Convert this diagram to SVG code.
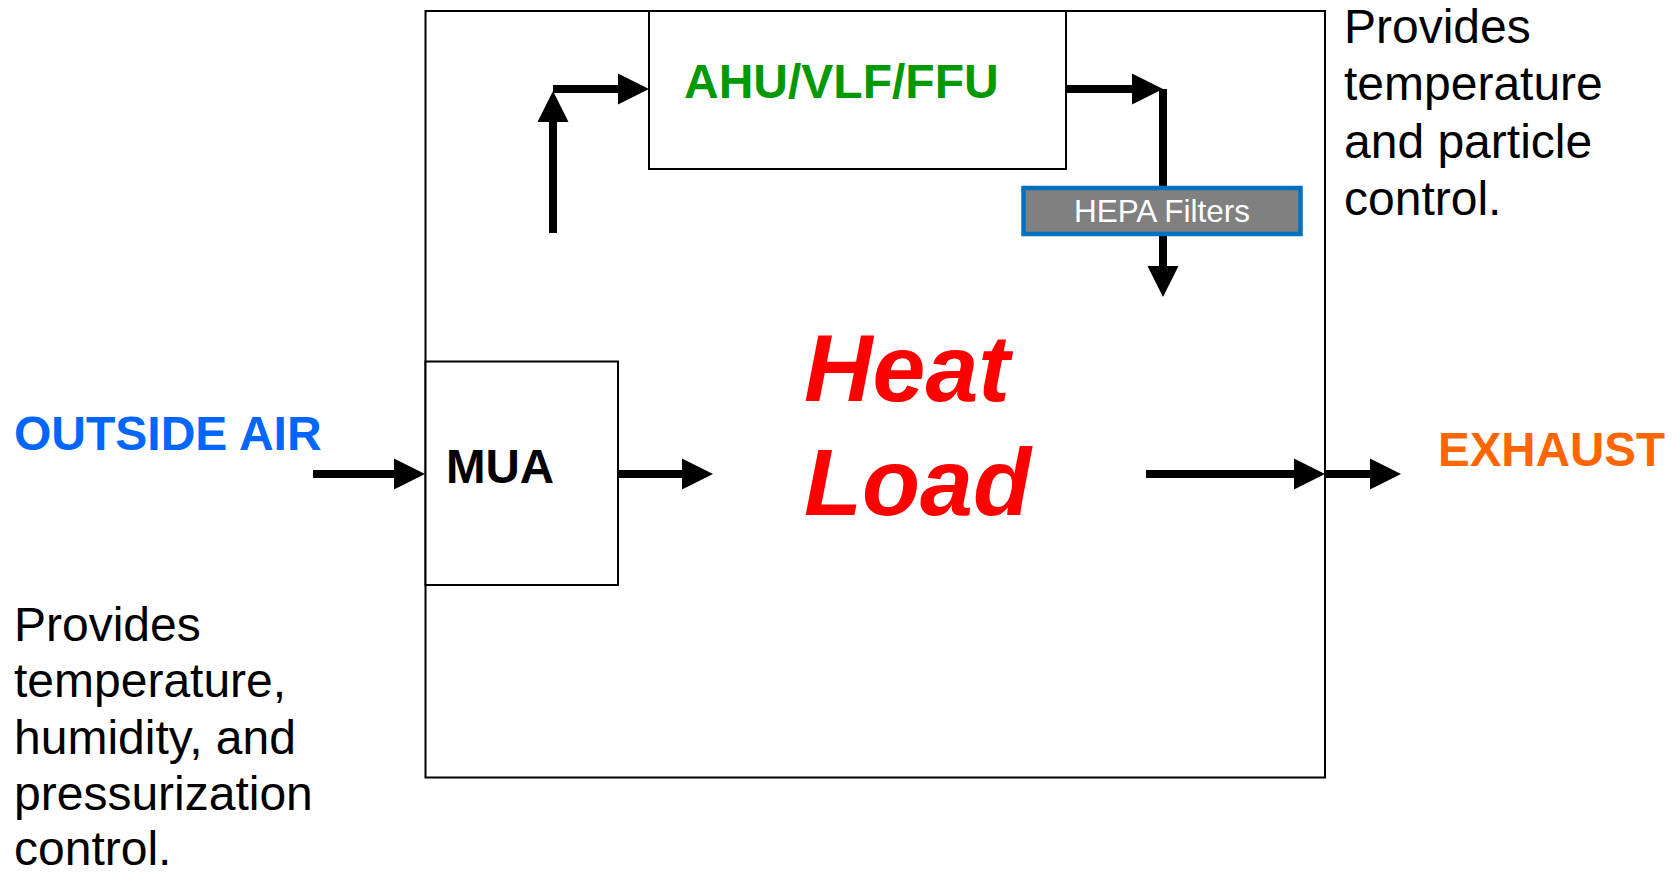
<svg xmlns="http://www.w3.org/2000/svg" width="1677" height="877" viewBox="0 0 1677 877">
<style>
.box{fill:#fff;stroke:#000;stroke-width:2}
.ln{fill:none;stroke:#000;stroke-width:8}
.t{font-family:"Liberation Sans",Arial,sans-serif}
.b{font-weight:bold}
.desc{font-family:"Liberation Sans",Arial,sans-serif;font-size:48px;fill:#000}
</style>
<defs>
<marker id="ah" markerUnits="userSpaceOnUse" markerWidth="31" markerHeight="31" refX="0" refY="15.5" orient="auto" overflow="visible">
<path d="M0,0 L31,15.5 L0,31 z" fill="#000"/>
</marker>
</defs>
<rect width="1677" height="877" fill="#fff"/>
<g id="room">
<rect class="box" x="425.5" y="11" width="899.5" height="766.5"/>
</g>
<g id="ahu">
<rect class="box" x="649" y="11" width="417" height="158"/>
<text class="t b" x="684" y="98" font-size="48" fill="#009900">AHU/VLF/FFU</text>
</g>
<g id="mua">
<rect class="box" x="425.5" y="361.5" width="192.5" height="223.5"/>
<text class="t b" x="446" y="483" font-size="47.5" fill="#000">MUA</text>
</g>
<g id="connectors">
<path class="ln" d="M313,474 H394" marker-end="url(#ah)"/>
<path class="ln" d="M618,474 H682" marker-end="url(#ah)"/>
<path class="ln" d="M1146,474 H1294" marker-end="url(#ah)"/>
<path class="ln" d="M1325,474 H1370" marker-end="url(#ah)"/>
<path class="ln" d="M553,233 V122" marker-end="url(#ah)"/>
<path class="ln" d="M553,89 H618" marker-end="url(#ah)"/>
<path class="ln" d="M1066,89 H1132" marker-end="url(#ah)"/>
<path class="ln" d="M1163,89 V266" marker-end="url(#ah)"/>
</g>
<g id="hepa">
<rect x="1023.5" y="188" width="277" height="46" fill="#808080" stroke="#0070C0" stroke-width="4.5"/>
<text class="t" x="1162" y="222" font-size="31.5" fill="#fff" text-anchor="middle">HEPA Filters</text>
</g>
<g id="heatload">
<text class="t b" font-style="italic" x="804" y="401" font-size="95" fill="#FF0000">Heat</text>
<text class="t b" font-style="italic" x="804" y="515" font-size="95" fill="#FF0000">Load</text>
</g>
<g id="outside-air">
<text class="t b" x="14" y="450" font-size="48" fill="#0066FF">OUTSIDE AIR</text>
</g>
<g id="exhaust">
<text class="t b" x="1438" y="466" font-size="47.5" fill="#FF6600">EXHAUST</text>
</g>
<g id="note-right">
<text class="desc" x="1344" y="43">Provides</text>
<text class="desc" x="1344" y="100">temperature</text>
<text class="desc" x="1344" y="158">and particle</text>
<text class="desc" x="1344" y="215">control.</text>
</g>
<g id="note-left">
<text class="desc" x="14" y="641">Provides</text>
<text class="desc" x="14" y="697">temperature,</text>
<text class="desc" x="14" y="754">humidity, and</text>
<text class="desc" x="14" y="810">pressurization</text>
<text class="desc" x="14" y="865">control.</text>
</g>
</svg>
